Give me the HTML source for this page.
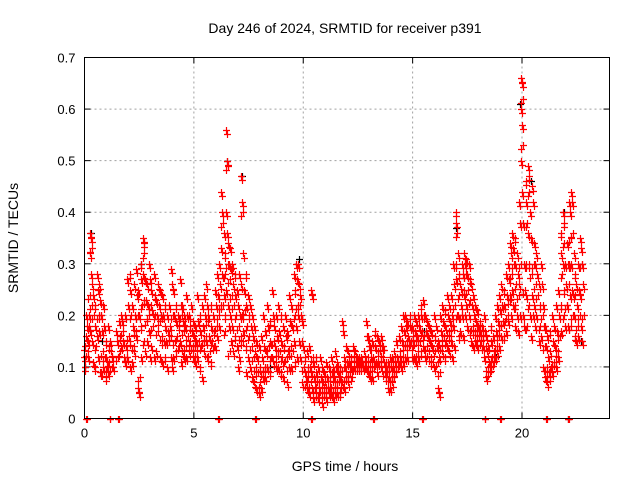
<!DOCTYPE html>
<html><head><meta charset="utf-8">
<style>
html,body{margin:0;padding:0;background:#fff;}
svg{display:block;font-family:"Liberation Sans",sans-serif;}
</style></head>
<body>
<svg id="chart" width="640" height="480" viewBox="0 0 640 480" xmlns="http://www.w3.org/2000/svg">
<rect x="0" y="0" width="640" height="480" fill="#fff"/>
<text x="345" y="33" font-size="14" text-anchor="middle" fill="#000">Day 246 of 2024, SRMTID for receiver p391</text>
<text x="0" y="0" font-size="14" text-anchor="middle" transform="translate(18,238) rotate(-90)">SRMTID / TECUs</text>
<text x="345" y="471" font-size="14" text-anchor="middle">GPS time / hours</text>
<g id="grid"></g>
<g id="ticks"></g>
<g id="black-series"></g>
<g id="red-series"></g>
<rect x="84.5" y="57.5" width="525" height="361" fill="none" stroke="#000" stroke-width="1"/>
</svg>
<script>
const xTicks=[0,5,10,15,20];
const yTicks=[0,0.1,0.2,0.3,0.4,0.5,0.6,0.7];
const yTickLabels=["0","0.1","0.2","0.3","0.4","0.5","0.6","0.7"];
const redHours=[0.0,0.1,0.2,0.3,0.4,0.5,0.6,0.7,0.8,0.9,1.0,1.1,1.2,1.3,1.5,1.6,1.7,1.8,1.9,2.0,2.1,2.2,2.3,2.4,2.5,2.6,2.7,2.8,2.9,3.0,3.1,3.2,3.3,3.4,3.5,3.6,3.7,3.8,3.9,4.0,4.1,4.2,4.3,4.4,4.5,4.6,4.7,4.8,4.9,5.0,5.1,5.2,5.3,5.4,5.5,5.6,5.7,5.8,5.9,6.0,6.1,6.2,6.3,6.4,6.5,6.6,6.7,6.8,6.9,7.0,7.1,7.2,7.3,7.4,7.5,7.6,7.7,7.8,7.9,8.0,8.1,8.2,8.3,8.4,8.5,8.6,8.7,8.8,8.9,9.0,9.1,9.2,9.3,9.4,9.5,9.6,9.7,9.8,9.9,10.0,10.1,10.2,10.3,10.4,10.5,10.6,10.7,10.8,10.9,11.0,11.1,11.2,11.3,11.4,11.5,11.6,11.7,11.8,11.9,12.0,12.1,12.2,12.3,12.4,12.5,12.6,12.7,12.8,12.9,13.0,13.1,13.2,13.3,13.4,13.5,13.6,13.7,13.8,13.9,14.0,14.1,14.2,14.3,14.4,14.5,14.6,14.7,14.8,14.9,15.0,15.1,15.2,15.3,15.4,15.5,15.6,15.7,15.8,15.9,16.0,16.1,16.2,16.3,16.4,16.5,16.6,16.7,16.8,16.9,17.0,17.1,17.2,17.3,17.4,17.5,17.6,17.7,17.8,17.9,18.0,18.1,18.2,18.3,18.4,18.5,18.6,18.7,18.8,18.9,19.0,19.1,19.2,19.3,19.4,19.5,19.6,19.7,19.8,19.9,20.0,20.1,20.2,20.3,20.4,20.5,20.6,20.7,20.8,20.9,21.0,21.1,21.2,21.3,21.4,21.5,21.6,21.7,21.8,21.9,22.0,22.1,22.2,22.3,22.4,22.5,22.6,22.7,22.8];
const redValues=[[0.12,0.1,0.14],[0.16,0.18,0.13,0.2],[0.15,0.2,0.24,0.12,0.18],[0.36,0.35,0.33,0.32,0.28,0.22,0.17],[0.26,0.24,0.2,0.15,0.11],[0.22,0.18,0.14,0.1],[0.28,0.25,0.2,0.16,0.12],[0.26,0.23,0.2,0.17,0.09],[0.2,0.17,0.13,0.09],[0.22,0.18,0.12,0.1],[0.15,0.12,0.1,0.08],[0.18,0.14,0.11,0.09],[0.15,0.13,0.1],[0.12,0.1],[0.17,0.15,0.12],[0.19,0.16,0.13],[0.2,0.19,0.17,0.14],[0.15,0.12],[0.2,0.14,0.12,0.11],[0.27,0.22,0.16,0.12],[0.28,0.25,0.2,0.15,0.1],[0.22,0.18,0.14,0.11],[0.26,0.2,0.17,0.13],[0.29,0.24,0.2,0.16],[0.25,0.2,0.08,0.06,0.05],[0.3,0.27,0.22,0.18,0.12],[0.35,0.34,0.32,0.28,0.23,0.15],[0.27,0.23,0.19,0.13],[0.26,0.22,0.2,0.15],[0.3,0.27,0.22,0.17,0.12],[0.25,0.21,0.18,0.14],[0.28,0.24,0.2,0.12],[0.23,0.2,0.17,0.13],[0.26,0.22,0.19],[0.25,0.2,0.16,0.12],[0.24,0.2,0.15,0.11],[0.22,0.18,0.15,0.12],[0.2,0.17,0.15,0.1],[0.22,0.18,0.16],[0.29,0.26,0.2,0.12,0.1],[0.25,0.2,0.15,0.12],[0.22,0.19,0.16,0.13],[0.2,0.18,0.14],[0.27,0.22,0.2,0.15,0.11],[0.22,0.19,0.17,0.13],[0.2,0.18,0.14,0.12],[0.24,0.2,0.16,0.12],[0.2,0.18,0.15,0.13],[0.22,0.17,0.14],[0.19,0.16,0.14,0.12],[0.18,0.15,0.13,0.11],[0.24,0.19,0.15,0.12],[0.2,0.17,0.14,0.1],[0.22,0.18,0.15,0.08],[0.24,0.2,0.16,0.13],[0.26,0.22,0.19,0.15,0.12],[0.2,0.16,0.13],[0.22,0.18,0.15,0.11],[0.2,0.17,0.14],[0.25,0.22,0.18,0.14],[0.28,0.24,0.2,0.16],[0.3,0.26,0.22,0.18],[0.44,0.4,0.38,0.33,0.28,0.22],[0.36,0.32,0.28,0.24,0.2,0.17],[0.56,0.5,0.49,0.4,0.36,0.3,0.25],[0.34,0.3,0.27,0.22,0.18,0.13],[0.33,0.29,0.24,0.2,0.15],[0.3,0.26,0.22,0.18,0.13],[0.28,0.24,0.2,0.16],[0.25,0.22,0.18,0.14,0.1],[0.28,0.2,0.16,0.12],[0.47,0.42,0.4,0.26,0.2,0.15],[0.32,0.25,0.21,0.17],[0.28,0.22,0.18,0.14,0.09],[0.24,0.2,0.16,0.12],[0.22,0.18,0.14,0.1],[0.2,0.16,0.12,0.08],[0.18,0.13,0.1,0.07],[0.15,0.12,0.09,0.06],[0.14,0.1,0.07,0.05],[0.16,0.12,0.09,0.06],[0.2,0.14,0.1,0.08],[0.17,0.13,0.1,0.08],[0.22,0.18,0.14,0.1],[0.19,0.15,0.12,0.09],[0.25,0.2,0.15,0.12],[0.18,0.14,0.11],[0.2,0.16,0.13,0.1],[0.22,0.17,0.13,0.1],[0.2,0.15,0.12,0.09],[0.18,0.14,0.11,0.08],[0.2,0.16,0.12],[0.17,0.13,0.1,0.07],[0.24,0.19,0.14,0.1],[0.22,0.18,0.13,0.1],[0.28,0.25,0.2,0.15,0.11],[0.3,0.27,0.22,0.18,0.12],[0.3,0.26,0.22,0.2,0.15],[0.24,0.2,0.15,0.12],[0.19,0.14,0.1,0.07],[0.12,0.09,0.07],[0.13,0.1,0.08,0.06],[0.14,0.1,0.07,0.05],[0.25,0.24,0.12,0.09,0.06],[0.11,0.08,0.06,0.04],[0.12,0.09,0.07,0.05],[0.1,0.07,0.05,0.04],[0.12,0.08,0.06],[0.1,0.07,0.05,0.03],[0.09,0.07,0.05],[0.11,0.08,0.06,0.04],[0.1,0.08,0.06,0.05],[0.12,0.09,0.07,0.05],[0.1,0.08,0.06,0.04],[0.13,0.1,0.07,0.05],[0.11,0.09,0.07,0.05],[0.1,0.08,0.06,0.05],[0.19,0.17,0.1,0.07],[0.12,0.1,0.08,0.06],[0.14,0.11,0.08],[0.13,0.11,0.09,0.07],[0.12,0.1,0.08],[0.14,0.12,0.1],[0.13,0.11,0.1],[0.12,0.11,0.1],[0.12,0.11,0.1],[0.12,0.11,0.1],[0.13,0.11,0.1],[0.19,0.16,0.12,0.1],[0.16,0.14,0.11,0.09],[0.14,0.12,0.1,0.08],[0.15,0.12,0.1,0.08],[0.17,0.14,0.11],[0.16,0.13,0.11,0.09],[0.15,0.13,0.11],[0.16,0.14,0.12,0.1],[0.14,0.11,0.09],[0.11,0.1,0.09,0.08],[0.11,0.1,0.08,0.06],[0.12,0.1,0.08,0.06],[0.12,0.1,0.08,0.07],[0.13,0.11,0.09],[0.15,0.12,0.1],[0.16,0.13,0.11],[0.18,0.15,0.12,0.1],[0.2,0.17,0.14,0.11],[0.2,0.18,0.15,0.12],[0.19,0.16,0.14,0.12],[0.2,0.18,0.15],[0.18,0.16,0.14,0.12],[0.2,0.17,0.15,0.12],[0.19,0.16,0.13,0.11],[0.2,0.18,0.15,0.12],[0.22,0.2,0.17,0.13],[0.23,0.2,0.16,0.14],[0.2,0.17,0.14,0.12],[0.19,0.16,0.13],[0.18,0.15,0.12],[0.17,0.14,0.11],[0.2,0.16,0.13,0.1],[0.18,0.14,0.11],[0.15,0.12,0.09,0.06,0.05],[0.2,0.17,0.14],[0.22,0.19,0.16,0.13],[0.21,0.18,0.15,0.12],[0.24,0.2,0.17,0.14],[0.22,0.19,0.16,0.13],[0.24,0.2,0.18,0.15,0.12],[0.3,0.26,0.22,0.18,0.14],[0.4,0.38,0.36,0.3,0.27,0.2],[0.32,0.28,0.24,0.2,0.16],[0.26,0.22,0.2,0.17],[0.3,0.28,0.25,0.2,0.16],[0.32,0.3,0.28,0.24,0.2],[0.31,0.28,0.25,0.22,0.18],[0.3,0.27,0.23,0.2,0.17],[0.26,0.22,0.18,0.15],[0.24,0.2,0.17,0.14],[0.22,0.19,0.17,0.15],[0.21,0.18,0.16,0.14],[0.19,0.17,0.15],[0.18,0.16,0.14],[0.2,0.17,0.14,0.12],[0.16,0.13,0.1,0.08],[0.14,0.11,0.09],[0.18,0.15,0.12,0.1],[0.16,0.13,0.11],[0.2,0.17,0.14,0.12],[0.22,0.19,0.16,0.13],[0.24,0.21,0.18,0.14],[0.26,0.22,0.19,0.16],[0.25,0.22,0.19,0.16],[0.28,0.24,0.2,0.17],[0.3,0.27,0.23,0.19],[0.34,0.32,0.28,0.24,0.2],[0.36,0.33,0.3,0.25,0.22],[0.35,0.3,0.26,0.22,0.18],[0.32,0.28,0.24,0.2,0.17],[0.42,0.38,0.3,0.26,0.2],[0.66,0.65,0.62,0.6,0.57,0.53,0.5,0.44],[0.38,0.3,0.25,0.2,0.18],[0.46,0.42,0.38,0.3,0.24,0.18],[0.49,0.47,0.44,0.36,0.3,0.22],[0.4,0.35,0.28,0.2,0.16],[0.45,0.42,0.3,0.24,0.2],[0.34,0.3,0.26,0.22,0.18],[0.32,0.28,0.24,0.2],[0.26,0.22,0.18,0.15],[0.3,0.26,0.2,0.16],[0.22,0.18,0.14,0.1],[0.18,0.14,0.1,0.08],[0.16,0.12,0.09,0.07],[0.17,0.13,0.1,0.08],[0.2,0.15,0.11,0.09],[0.18,0.14,0.11],[0.22,0.17,0.13,0.1],[0.25,0.2,0.16,0.12],[0.36,0.32,0.28,0.22,0.17],[0.4,0.38,0.34,0.3,0.25,0.2],[0.3,0.26,0.22,0.18],[0.34,0.3,0.26,0.22,0.18],[0.42,0.4,0.35,0.3,0.24,0.18],[0.44,0.42,0.36,0.3,0.25,0.2],[0.32,0.28,0.24,0.2,0.16],[0.26,0.22,0.18,0.15],[0.3,0.25,0.2,0.16],[0.35,0.33,0.3,0.24,0.18],[0.3,0.26,0.2,0.15]];
const redZeroHours=[0.09,1.15,1.54,6.1,7.8,10.35,13.2,15.45,18.3,19.0,21.1,22.1];
const blackHours=[0.0,0.3,0.8,2.6,3.5,6.5,7.2,8.5,9.8,15.5,17.0,18.8,19.9,20.4,21.9,22.7];
const blackValues=[0.1,0.36,0.15,0.3,0.2,0.5,0.47,0.1,0.31,0.17,0.37,0.12,0.61,0.46,0.4,0.15];
const blackZeroHours=[22.1];

const NS="http://www.w3.org/2000/svg";
const X0=84.5,X1=609.5,Y0=418.5,Y1=57.5,XMAX=24,YMAX=0.7;
function xs(h){return X0+(h/XMAX)*(X1-X0);}
function ys(v){return Y0-(v/YMAX)*(Y0-Y1);}
function mk(tag,attrs,parent){const e=document.createElementNS(NS,tag);for(const k in attrs)e.setAttribute(k,attrs[k]);parent.appendChild(e);return e;}
const grid=document.getElementById('grid'),ticks=document.getElementById('ticks');
xTicks.forEach(t=>{
  const x=xs(t);
  if(t>0&&t<XMAX){const g=mk('line',{x1:x,y1:Y0,x2:x,y2:Y1,stroke:'#a0a0a0','stroke-dasharray':'2,3','stroke-width':1},grid);
  
  }
  mk('line',{x1:x,y1:Y0,x2:x,y2:Y0-6,stroke:'#000'},ticks);
  mk('line',{x1:x,y1:Y1,x2:x,y2:Y1+6,stroke:'#000'},ticks);
  const tx=mk('text',{x:x,y:Y0+19,'font-size':13,'text-anchor':'middle',fill:'#000'},ticks);
  tx.textContent=String(t);
  
  
});
yTicks.forEach((t,i)=>{
  const y=ys(t);
  if(t>0&&t<YMAX){const g=mk('line',{x1:X0,y1:y,x2:X1,y2:y,stroke:'#a0a0a0','stroke-dasharray':'2,3','stroke-width':1},grid);
  
  }
  mk('line',{x1:X0,y1:y,x2:X0+6,y2:y,stroke:'#000'},ticks);
  mk('line',{x1:X1,y1:y,x2:X1-6,y2:y,stroke:'#000'},ticks);
  const tx=mk('text',{x:X0-9,y:y+5,'font-size':13,'text-anchor':'end',fill:'#000'},ticks);
  tx.textContent=yTickLabels[i];
  
  
});
function plus(h,v,color,parent){
  const x=Math.round(xs(h))+0.5,y=Math.round(ys(v))+0.5;
  const p=mk('path',{d:`M${x-3.5},${y}H${x+3.5}M${x},${y-3.5}V${y+3.5}`,stroke:color,'stroke-width':1.2,fill:'none'},parent);
  
  
}
const bg=document.getElementById('black-series'),rg=document.getElementById('red-series');
const offs=[-0.04,0.0,0.04];
blackHours.forEach((h,i)=>plus(h,blackValues[i],'#000',bg));
blackZeroHours.forEach(h=>plus(h,0,'#000',bg));
redHours.forEach((h,i)=>redValues[i].forEach((v,j)=>{plus(h+offs[j%3],v,'#f00',rg);plus(h+offs[(j+1)%3],v-0.008,'#f00',rg);}));
redZeroHours.forEach(h=>{plus(h,0,'#f00',rg);plus(h+0.03,0,'#f00',rg);});
</script>
</body></html>
